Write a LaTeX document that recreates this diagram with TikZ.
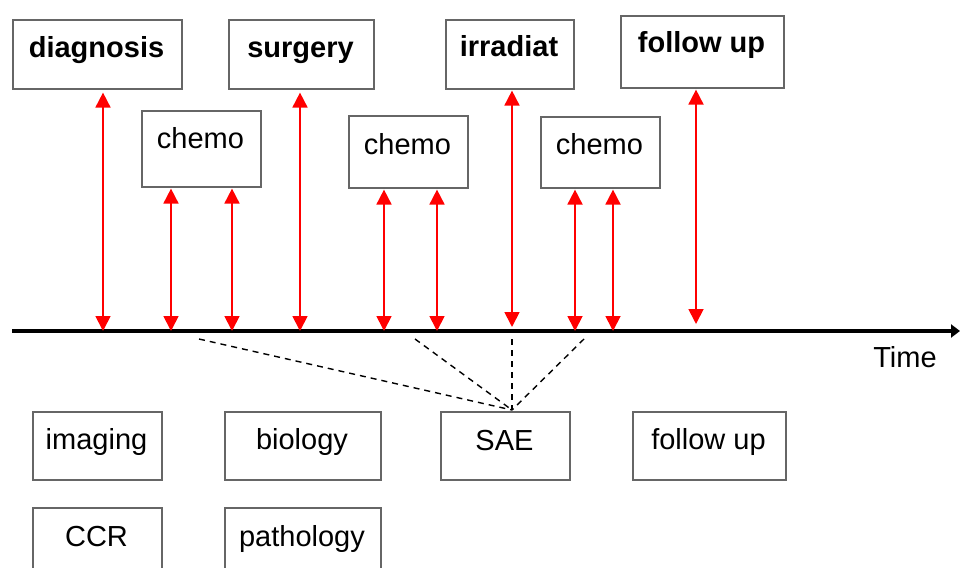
\documentclass[tikz,border=0pt]{standalone}
\usepackage{fontspec}
\setmainfont{Liberation Sans}
\usetikzlibrary{arrows.meta}
\begin{document}
\begin{tikzpicture}[x=1pt,y=-1pt,
  box/.style={draw=black!60, line width=1.6pt, rectangle, inner sep=0pt},
  lbl/.style={anchor=base, inner sep=0pt, font=\fontsize{29}{32}\selectfont},
  blbl/.style={lbl, font=\fontsize{29}{32}\selectfont\bfseries},
  redarr/.style={draw=red, line width=1.8pt, {Triangle[width=15pt,length=15pt]}-{Triangle[width=15pt,length=15pt]}},
  dash/.style={}, 
  sae/.style={draw=black, line width=1.4pt, dash pattern=on 6pt off 5pt}
]
\clip (0,0) rectangle (960,567);
% top row boxes
\node[box, minimum width=169pt, minimum height=69pt, anchor=north west] (diag) at (12,19) {};
\node[blbl] (diagt) at (96.5,58) {diagnosis};
\node[box, minimum width=145pt, minimum height=69pt, anchor=north west] (surg) at (228,19) {};
\node[blbl] (surgt) at (300.5,58) {surgery};
\node[box, minimum width=128pt, minimum height=69pt, anchor=north west] (irr) at (445,19) {};
\node[blbl] (irrt) at (509,57) {irradiat};
\node[box, minimum width=163pt, minimum height=72pt, anchor=north west] (fup) at (620,15) {};
\node[blbl] (fupt) at (701.5,53) {follow up};
% chemo boxes
\node[box, minimum width=119pt, minimum height=76pt, anchor=north west] (ch1) at (141,110) {};
\node[lbl] (ch1t) at (200.5,148) {chemo};
\node[box, minimum width=119pt, minimum height=72pt, anchor=north west] (ch2) at (348,115) {};
\node[lbl] (ch2t) at (407.5,154) {chemo};
\node[box, minimum width=119pt, minimum height=71pt, anchor=north west] (ch3) at (540,116) {};
\node[lbl] (ch3t) at (599.5,154) {chemo};
% timeline
\coordinate (tl0) at (12,331);
\coordinate (tl1) at (960,331);
\draw[line width=4.5pt, -{Triangle[width=13pt,length=9pt]}] (tl0) -- (tl1);
\node[lbl, anchor=base] (time) at (905,367) {Time};
% timeline points
\coordinate (p1) at (103,331);
\coordinate (p2) at (171,331);
\coordinate (p3) at (232,331);
\coordinate (p4) at (300,331);
\coordinate (p5) at (384,331);
\coordinate (p6) at (437,331);
\coordinate (p7) at (512,327);
\coordinate (p8) at (575,331);
\coordinate (p9) at (613,331);
\coordinate (p10) at (696,324);
% red arrows
\draw[redarr] ([yshift=-3pt]p1 |- diag.south) -- (p1);
\draw[redarr] ([yshift=-1pt]p2 |- ch1.south) -- (p2);
\draw[redarr] ([yshift=-1pt]p3 |- ch1.south) -- (p3);
\draw[redarr] ([yshift=-3pt]p4 |- surg.south) -- (p4);
\draw[redarr] ([yshift=-1pt]p5 |- ch2.south) -- (p5);
\draw[redarr] ([yshift=-1pt]p6 |- ch2.south) -- (p6);
\draw[redarr] ([yshift=-1pt]p7 |- irr.south) -- (p7);
\draw[redarr] ([yshift=-1pt]p8 |- ch3.south) -- (p8);
\draw[redarr] ([yshift=-1pt]p9 |- ch3.south) -- (p9);
\draw[redarr] ([yshift=-1pt]p10 |- fup.south) -- (p10);
% bottom boxes
\node[box, minimum width=129pt, minimum height=68pt, anchor=north west] (img) at (32,411) {};
\node[lbl] (imgt) at (96.5,449) {imaging};
\node[box, minimum width=156pt, minimum height=68pt, anchor=north west] (bio) at (224,411) {};
\node[lbl] (biot) at (302,449) {biology};
\node[box, minimum width=129pt, minimum height=68pt, anchor=north west] (sae) at (440,411) {};
\node[lbl] (saet) at (504.5,450) {SAE};
\node[box, minimum width=153pt, minimum height=68pt, anchor=north west] (fub) at (632,411) {};
\node[lbl] (fubt) at (708.5,449) {follow up};
\node[box, minimum width=129pt, minimum height=80pt, anchor=north west] (ccr) at (32,507) {};
\node[lbl] (ccrt) at (96.5,546) {CCR};
\node[box, minimum width=156pt, minimum height=80pt, anchor=north west] (path) at (224,507) {};
\node[lbl] (patht) at (302,546) {pathology};
% dashed connectors
\coordinate (sa) at (512,410);
\coordinate (d1) at (199,339);
\coordinate (d2) at (415,339);
\coordinate (d3) at (512,339);
\coordinate (d4) at (584,339);
\draw[sae] (d1) -- (sa);
\draw[sae] (d2) -- (sa);
\draw[sae] (d3) -- (sa);
\draw[sae] (d4) -- (sa);
\end{tikzpicture}
\end{document}
